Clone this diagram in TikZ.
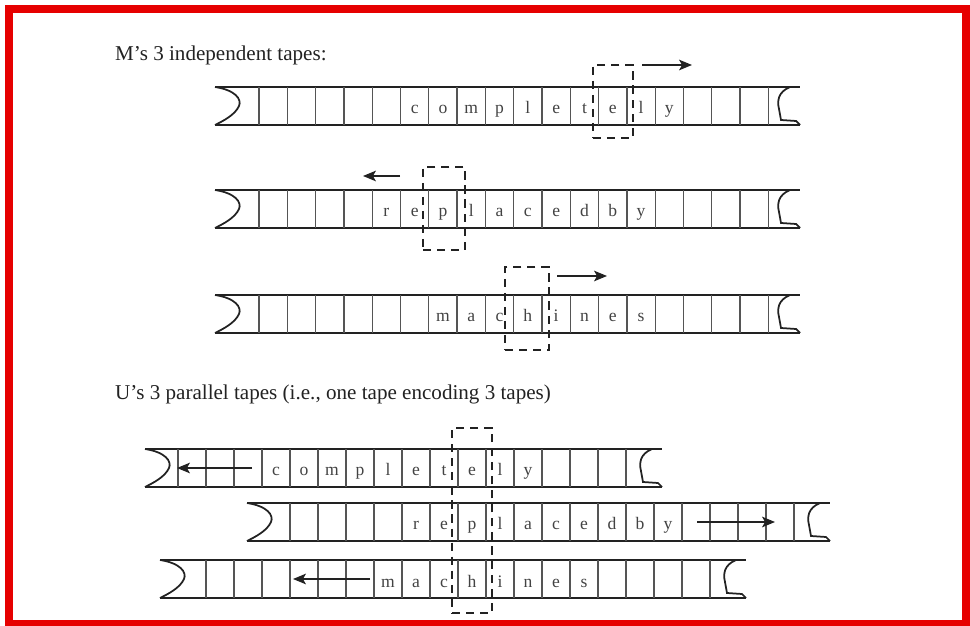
\documentclass[tikz,border=0pt]{standalone}
\usepackage{fontspec}
\setmainfont{Liberation Serif}
\usepackage{tikz}
\usetikzlibrary{arrows.meta,positioning}
\definecolor{TMFrame}{HTML}{E60000}
\definecolor{TMInk}{HTML}{222222}
\definecolor{TMCell}{HTML}{555555}
\tikzset{
  tmframe/.style={draw=TMFrame,line width=6.8pt},
  tmcaption/.style={anchor=base west,inner sep=0pt,text=TMInk,font=\fontsize{18}{21}\selectfont},
  tmedge/.style={draw=TMInk,line width=1.5pt},
  tmdiv/.style={draw=TMCell,line width=1.1pt},
  tmsym/.style={anchor=base,inner sep=0pt,text=TMInk!85,font=\fontsize{15}{18}\selectfont},
  tmhead/.style={rectangle,draw=TMInk,dash pattern=on 7pt off 5pt,line width=1.4pt,inner sep=0pt},
  tmarrow/.style={-{Stealth[length=11pt,width=9pt,inset=2.5pt]},line width=1.3pt,draw=TMInk},
}

\begin{document}
\begin{tikzpicture}[x=0.03cm,y=-0.03cm]
  \useasboundingbox (0,0) rectangle (970,626);
  \draw[tmframe] (9,9) rectangle (966,624);

  \node[tmcaption] (capM) at (115,61) {M's 3 independent tapes:};
  \node[tmcaption] (capU) at (115,400) {U's 3 parallel tapes (i.e., one tape encoding 3 tapes)};

  % tapes: top / left end / first divider / cells / cell width / right end
  \foreach \yt/\xl/\xd/\nc/\w/\xr in {87/215/259/18/28.3/800, 190/215/259/18/28.3/800,
      295/215/259/18/28.3/800, 449/145/178/16/28/662, 503/247/290/18/28/830, 560/160/206/18/28/746}{
    \draw[tmedge] (\xl,\yt) -- (\xr,\yt);
    \draw[tmedge] (\xl,\yt+38) -- (\xr,\yt+38);
    \draw[tmedge] (\xl,\yt) .. controls (\xl+20,\yt+3) and (\xl+27,\yt+12) .. (\xl+24,\yt+19)
      .. controls (\xl+20,\yt+28) and (\xl+8,\yt+34) .. (\xl,\yt+38);
    \draw[tmedge] (\xr-10,\yt) .. controls (\xr-22,\yt+5) and (\xr-23,\yt+14) .. (\xr-21,\yt+22)
      -- (\xr-19,\yt+33) -- (\xr-4,\yt+34) -- (\xr,\yt+38);
    \foreach \k in {0,...,\nc}
      \draw[tmdiv] (\xd+\k*\w,\yt) -- (\xd+\k*\w,\yt+38);
  }

  % symbols on M's tapes
  \foreach \ch [count=\i from 0] in {c,o,m,p,l,e,t,e,l,y}
    \node[tmsym] (mA\i) at (414.65+\i*28.3,114) {\ch};
  \foreach \ch [count=\i from 0] in {r,e,p,l,a,c,e,d,b,y}
    \node[tmsym] (mB\i) at (386.35+\i*28.3,217) {\ch};
  \foreach \ch [count=\i from 0] in {m,a,c,h,i,n,e,s}
    \node[tmsym] (mC\i) at (442.95+\i*28.3,322) {\ch};

  % symbols on U's tape
  \foreach \ch [count=\i from 0] in {c,o,m,p,l,e,t,e,l,y}
    \node[tmsym] (uA\i) at (276+\i*28,476) {\ch};
  \foreach \ch [count=\i from 0] in {r,e,p,l,a,c,e,d,b,y}
    \node[tmsym] (uB\i) at (416+\i*28,530) {\ch};
  \foreach \ch [count=\i from 0] in {m,a,c,h,i,n,e,s}
    \node[tmsym] (uC\i) at (388+\i*28,587) {\ch};

  % heads
  \node[tmhead,minimum width=1.2cm,minimum height=2.19cm] (headA) at (612.8,101.5) {};
  \node[tmhead,minimum width=1.26cm,minimum height=2.49cm] (headB) at (444,208.5) {};
  \node[tmhead,minimum width=1.32cm,minimum height=2.49cm] (headC) at (527,308.5) {};
  \node[tmhead,minimum width=1.2cm,minimum height=5.55cm] (headU) at (472,520.5) {};

  % head moves
  \coordinate (mvA1) at (642,65);  \coordinate (mvA2) at (692,65);
  \coordinate (mvB1) at (400,176); \coordinate (mvB2) at (363,176);
  \coordinate (mvC1) at (557,276); \coordinate (mvC2) at (607,276);
  \coordinate (uvA1) at (252,468); \coordinate (uvA2) at (177,468);
  \coordinate (uvB1) at (697,522); \coordinate (uvB2) at (775,522);
  \coordinate (uvC1) at (370,579); \coordinate (uvC2) at (293,579);
  \draw[tmarrow] (mvA1) -- (mvA2);
  \draw[tmarrow] (mvB1) -- (mvB2);
  \draw[tmarrow] (mvC1) -- (mvC2);
  \draw[tmarrow] (uvA1) -- (uvA2);
  \draw[tmarrow] (uvB1) -- (uvB2);
  \draw[tmarrow] (uvC1) -- (uvC2);
\end{tikzpicture}
\end{document}
